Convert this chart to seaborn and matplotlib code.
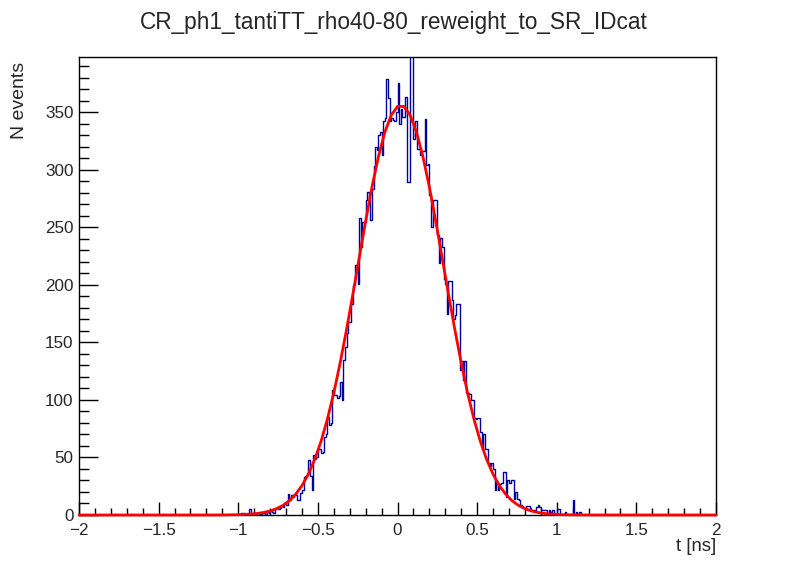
import numpy as np
import pandas as pd
import matplotlib
matplotlib.use("Agg")
import matplotlib.pyplot as plt
from matplotlib.ticker import MultipleLocator
import seaborn as sns

# ---------------- data ----------------
title = "CR_ph1_tantiTT_rho40-80_reweight_to_SR_IDcat"
x_label = "t [ns]"
y_label = "N events"

bin_width = 0.01          # ns
first_bin_low = -1.00     # lower edge of the first listed bin
counts = [
    0, 0, 2, 2, 0, 0, 1, 5, 1, 0,            # -1.00 .. -0.91
    1, 0, 2, 1, 1, 2, 2, 1, 3, 2,            # -0.90 .. -0.81
    4, 3, 2, 5, 6, 5, 6, 8, 7, 10,           # -0.80 .. -0.71
    9, 18, 13, 17, 16, 18, 17, 13, 13, 19,   # -0.70 .. -0.61
    22, 33, 34, 35, 48, 34, 22, 52, 49, 50,  # -0.60 .. -0.51
    58, 57, 54, 55, 68, 70, 85, 78, 80, 109, # -0.50 .. -0.41
    104, 104, 102, 103, 116, 100, 135, 146, 158, 168,  # -0.40 .. -0.31
    168, 183, 200, 217, 217, 201, 258, 233, 255, 255,  # -0.30 .. -0.21
    274, 281, 274, 256, 283, 303, 320, 317, 330, 333,  # -0.20 .. -0.11
    313, 342, 345, 379, 362, 342, 345, 343, 342, 350,  # -0.10 .. -0.01
    375, 340, 353, 346, 346, 363, 289, 289, 410, 405,  #  0.00 ..  0.09
    327, 342, 318, 318, 313, 316, 316, 344, 304, 305,  #  0.10 ..  0.19
    278, 250, 274, 274, 274, 243, 219, 241, 233, 205,  #  0.20 ..  0.29
    201, 175, 203, 203, 187, 170, 174, 183, 183, 126,  #  0.30 ..  0.39
    134, 117, 134, 106, 106, 105, 100, 100, 84, 83,    #  0.40 ..  0.49
    84, 84, 72, 57, 70, 57, 57, 45, 43, 45,            #  0.50 ..  0.59
    40, 22, 29, 22, 27, 28, 37, 37, 16, 30,            #  0.60 ..  0.69
    28, 30, 30, 14, 20, 14, 13, 9, 8, 6,               #  0.70 ..  0.79
    6, 8, 8, 6, 4, 4, 4, 7, 9, 7,                      #  0.80 ..  0.89
    4, 4, 4, 4, 2, 4, 3, 4, 2, 0,                      #  0.90 ..  0.99
    5, 5, 0, 0, 0, 3, 0, 0, 0, 0,                      #  1.00 ..  1.09
    13, 0, 3, 0, 3, 0, 0, 0, 0, 0,                     #  1.10 ..  1.19
]

# Gaussian fit drawn in red (amplitude, mean, sigma)
fit_amp = 356.0
fit_mean = 0.02
fit_sigma = 0.27

x_range = (-2.0, 2.0)
y_range = (0.0, 398.0)

# ---------------- build table ----------------
n_total = int(round((x_range[1] - x_range[0]) / bin_width))
centers = x_range[0] + bin_width * (np.arange(n_total) + 0.5)
full = np.zeros(n_total)
i0 = int(round((first_bin_low - x_range[0]) / bin_width))
full[i0:i0 + len(counts)] = counts
df = pd.DataFrame({"t": centers, "w": full})

fx = np.linspace(x_range[0], x_range[1], 101)
fit_df = pd.DataFrame({"t": fx,
                       "y": fit_amp * np.exp(-0.5 * ((fx - fit_mean) / fit_sigma) ** 2)})

# ---------------- plot ----------------
sns.set_theme(style="white")
plt.rcParams["font.family"] = ["Liberation Sans", "DejaVu Sans"]

fig = plt.figure(figsize=(7.96, 5.72), dpi=100)
ax = fig.add_axes([79 / 796, 57 / 572, 637 / 796, 458 / 572])

sns.histplot(data=df, x="t", weights="w", binwidth=bin_width, binrange=x_range,
             element="step", fill=False, color="#000099", linewidth=1.0, ax=ax)
sns.lineplot(data=fit_df, x="t", y="y", color="#ff0000", linewidth=2.0,
             ax=ax, clip_on=False, zorder=5)

ax.set_xlim(*x_range)
ax.set_ylim(*y_range)

for s in ax.spines.values():
    s.set_color("black")
    s.set_linewidth(1.0)

ax.xaxis.set_major_locator(MultipleLocator(0.5))
ax.xaxis.set_minor_locator(MultipleLocator(0.1))
ax.yaxis.set_major_locator(MultipleLocator(50))
ax.yaxis.set_minor_locator(MultipleLocator(10))

ax.tick_params(axis="x", which="major", direction="in", length=13 * 0.72,
               width=1, color="black", labelsize=12.3, pad=5.5, bottom=True, top=False)
ax.tick_params(axis="x", which="minor", direction="in", length=7 * 0.72,
               width=1, color="black", bottom=True, top=False)
ax.tick_params(axis="y", which="major", direction="in", length=19 * 0.72,
               width=1, color="black", labelsize=12.3, pad=4, left=True, right=False)
ax.tick_params(axis="y", which="minor", direction="in", length=10 * 0.72,
               width=1, color="black", left=True, right=False)

ax.set_xticks([-2, -1.5, -1, -0.5, 0, 0.5, 1, 1.5, 2])
ax.set_xticklabels(["\u22122", "\u22121.5", "\u22121", "\u22120.5", "0",
                    "0.5", "1", "1.5", "2"])

ax.set_xlabel(x_label, fontsize=13.3, loc="right")
ax.xaxis.set_label_coords(1.0, -0.050)
ax.set_ylabel(y_label, fontsize=14, loc="top")
ax.yaxis.set_label_coords(-0.080, 0.989)

fig.text(394 / 796, 1 - 23 / 572, title, ha="center", va="center", fontsize=16.3)

fig.savefig("out.png", dpi=100)
